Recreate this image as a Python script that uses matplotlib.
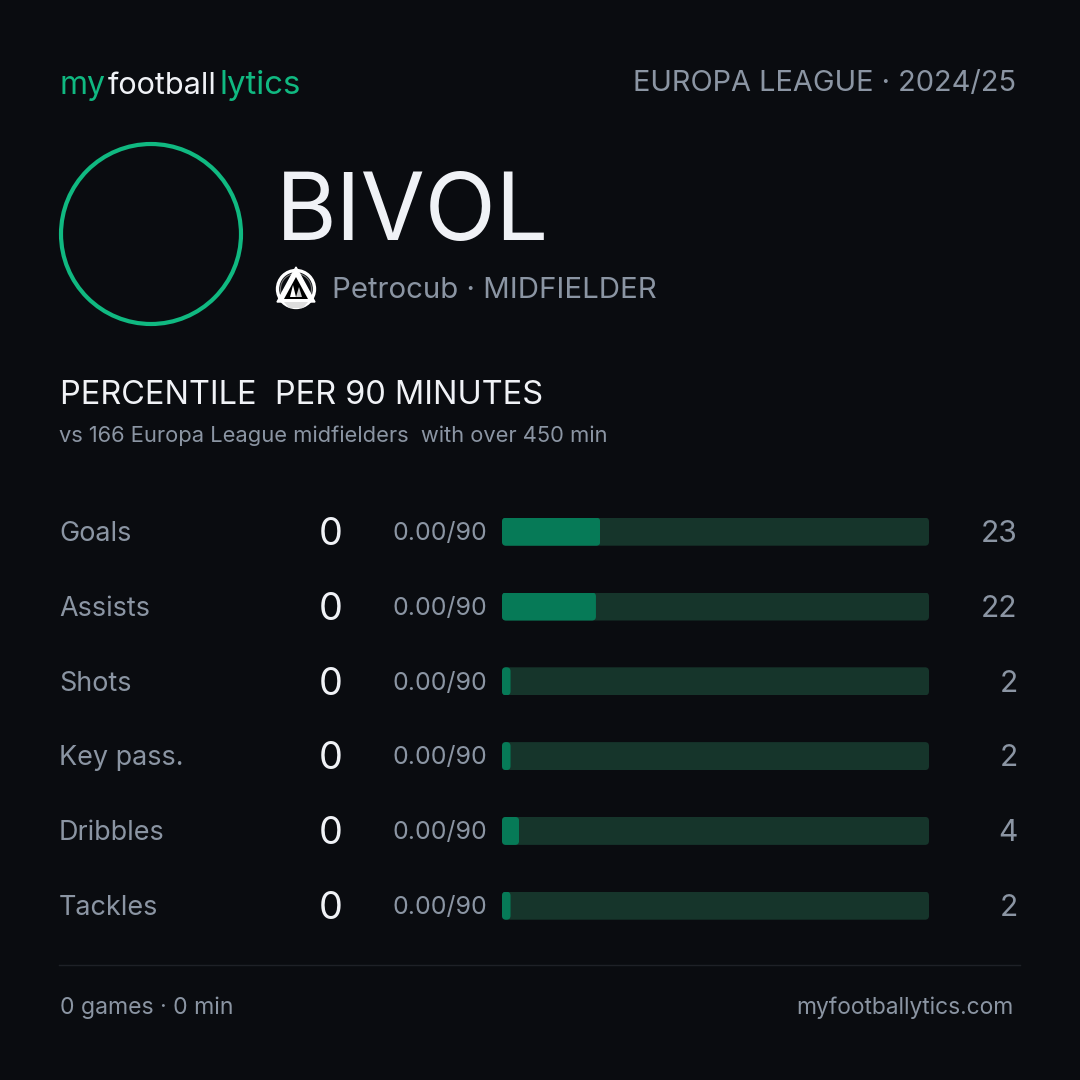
import matplotlib
matplotlib.use('Agg')
import matplotlib.pyplot as plt
from matplotlib.patches import Circle, FancyBboxPatch, Polygon

plt.rcParams['font.family'] = ['Inter', 'DejaVu Sans']

# Data
metrics = ['Goals', 'Assists', 'Shots', 'Key pass.', 'Dribbles', 'Tackles']
raw_values = [0, 0, 0, 0, 0, 0]
per90 = ['0.00/90', '0.00/90', '0.00/90', '0.00/90', '0.00/90', '0.00/90']
percentiles = [23, 22, 2, 2, 4, 2]

BG = '#0a0c10'
GREEN = '#10b981'
FILL = '#067a57'
TRACK = '#16352b'
GREY = '#8b95a3'
LIGHT = '#f0f2f6'

fig = plt.figure(figsize=(10.8, 10.8), dpi=100, facecolor=BG)

# Overlay in pixel coordinates for the text
pix = fig.add_axes([0, 0, 1, 1], zorder=2)
pix.set_xlim(0, 1080)
pix.set_ylim(1080, 0)
pix.axis('off')


def txt(x, y, s, px, color, ha='left'):
    pix.text(x, y, s, fontsize=px * 0.72, color=color, ha=ha, va='baseline')


# Header
txt(60, 94, 'my', 32, GREEN)
txt(108, 94, 'football', 30.6, LIGHT)
txt(220, 94, 'lytics', 33, GREEN)
txt(1016, 91, 'EUROPA LEAGUE · 2024/25', 29, GREY, ha='right')

# Player
pix.add_patch(Circle((151, 234), 90, fill=False, ec=GREEN, lw=3))
txt(276, 240, 'BIVOL', 93, LIGHT)
txt(332, 298, 'Petrocub · MIDFIELDER', 29.4, GREY)

# Club crest
pix.add_patch(Circle((296, 289), 18.5, fill=False, ec='white', lw=2.4))
pix.add_patch(Circle((296, 289), 15.5, fill=False, ec='#777777', lw=0.8))
pix.add_patch(Polygon([(296, 267), (315, 302), (277, 302)], closed=True, fc='white', ec='white', lw=1))
pix.add_patch(Polygon([(296, 277), (308, 299), (284, 299)], closed=True, fc='black', ec='none'))
pix.add_patch(Polygon([(293, 285), (296, 297), (290, 297)], closed=True, fc='white', ec='none'))
pix.add_patch(Polygon([(299, 287), (302, 297), (296, 297)], closed=True, fc='#cccccc', ec='none'))
pix.add_patch(Polygon([(284, 302), (308, 302), (303, 308), (289, 308)], closed=True, fc='#dddddd', ec='none'))

# Section title
txt(60, 404, 'PERCENTILE  PER 90 MINUTES', 32.5, LIGHT)
txt(59, 442, 'vs 166 Europa League midfielders  with over 450 min', 21.9, GREY)

# Bars
ax = fig.add_axes([502 / 1080, 1 - 943.1 / 1080, 427 / 1080, 448.8 / 1080], zorder=1)
ax.set_xlim(0, 100)
ax.set_ylim(5.5, -0.5)
ax.axis('off')
rows = list(range(len(metrics)))
bar_h = 28 / 74.8
aspect = (1 / 74.8) / (100 / 427)
radius = 4 * 100 / 427

track = ax.barh(rows, [100] * len(rows), height=bar_h, color=TRACK)
fills = ax.barh(rows, percentiles, height=bar_h, color=FILL)


def round_clip(bar):
    clip = FancyBboxPatch((bar.get_x(), bar.get_y()), bar.get_width(), bar.get_height(),
                          boxstyle=f'round,pad=0,rounding_size={radius}',
                          mutation_aspect=aspect, transform=ax.transData)
    bar.set_clip_path(clip)


for b in list(track) + list(fills):
    round_clip(b)

# Row labels
for i, name in enumerate(metrics):
    y = 532 + i * 74.8
    txt(59, y + 9, name, 27, GREY)
    txt(331, y + 13, str(raw_values[i]), 38, LIGHT, ha='center')
    txt(487.5, y + 8, per90[i], 25, GREY, ha='right')
    txt(1017.5, y + 10, str(percentiles[i]), 30, GREY, ha='right')

# Footer
pix.plot([59, 1020], [965, 965], color='#1e2127', lw=1)
txt(60, 1014, '0 games · 0 min', 23, GREY)
txt(1013, 1014, 'myfootballytics.com', 22.8, GREY, ha='right')

fig.savefig('out.png', dpi=100, facecolor=BG)
